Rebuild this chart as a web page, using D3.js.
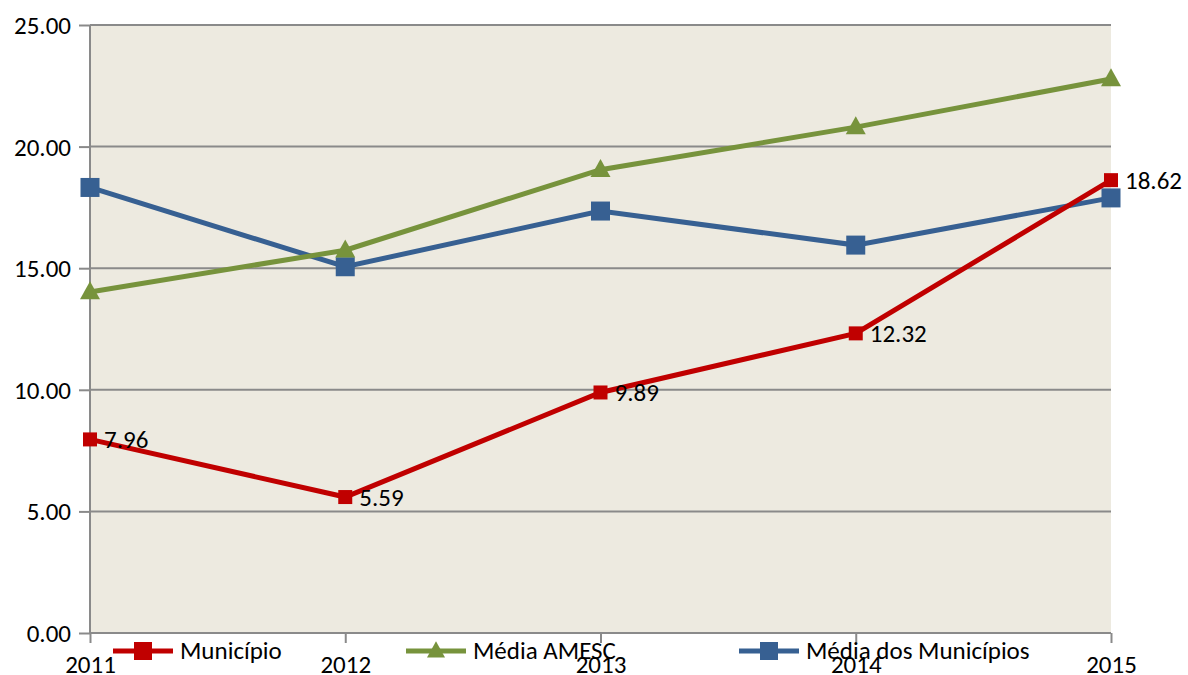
<!DOCTYPE html>
<html>
<head>
<meta charset="utf-8">
<script src="https://cdn.jsdelivr.net/npm/d3@7"></script>
<style>
  body { margin: 0; background: #fff; }
  svg text { font-family: Carlito, "Open Sans", "Liberation Sans", sans-serif; fill: #000; font-size: 25px; }
</style>
</head>
<body>
<script>
// chart data
var years = ["2011", "2012", "2013", "2014", "2015"];
var municipio = [7.96, 5.59, 9.89, 12.32, 18.62];
var mediaAmesc = [14.02, 15.74, 19.05, 20.80, 22.78];
var mediaMunicipios = [18.32, 15.06, 17.35, 15.95, 17.89];
var yTicks = [0, 5, 10, 15, 20, 25];

var width = 1188, height = 675;
var margin = {top: 25, right: 77, bottom: 42, left: 90};

var svg = d3.select("body").append("svg")
    .attr("width", width)
    .attr("height", height);

var x = d3.scalePoint()
    .domain(years)
    .range([margin.left, width - margin.right]);

var y = d3.scaleLinear()
    .domain([0, 25])
    .range([height - margin.bottom, margin.top]);

// plot background
svg.append("rect")
    .attr("x", margin.left)
    .attr("y", margin.top)
    .attr("width", width - margin.right - margin.left)
    .attr("height", y(0) - margin.top)
    .attr("fill", "#EDEAE0");

// gridlines + y axis
var yAxis = svg.append("g")
    .attr("transform", "translate(" + margin.left + ",0)")
    .call(d3.axisLeft(y).tickValues(yTicks).tickSize(11).tickPadding(8)
      .tickFormat(d3.format(".2f")));
yAxis.select(".domain").remove();
yAxis.selectAll(".tick line").attr("stroke", "#8a8a8a").attr("stroke-width", 2);
yAxis.selectAll(".tick text").style("font-size", "25px").attr("dy", "0.34em");

svg.append("g").selectAll("line")
  .data(yTicks)
  .enter().append("line")
    .attr("x1", margin.left)
    .attr("x2", width - margin.right)
    .attr("y1", function(d) { return y(d); })
    .attr("y2", function(d) { return y(d); })
    .attr("stroke", "#8a8a8a")
    .attr("stroke-width", 2);

svg.append("line")
    .attr("x1", margin.left).attr("x2", margin.left)
    .attr("y1", margin.top).attr("y2", y(0))
    .attr("stroke", "#8a8a8a").attr("stroke-width", 2);

// x axis
var xAxis = svg.append("g")
    .attr("transform", "translate(0," + y(0) + ")")
    .call(d3.axisBottom(x).tickSize(10));
xAxis.select(".domain").remove();
xAxis.selectAll(".tick line").attr("stroke", "#8a8a8a").attr("stroke-width", 2);
xAxis.selectAll(".tick text")
    .style("font-size", "25px")
    .attr("y", 40)
    .attr("dy", 0);

var series = [
  {name: "Município", values: municipio, color: "#C00000", marker: "square", size: 14, labels: true},
  {name: "Média AMESC", values: mediaAmesc, color: "#77933C", marker: "triangle", size: 20},
  {name: "Média dos Municípios", values: mediaMunicipios, color: "#376092", marker: "square", size: 19}
];

var line = d3.line()
    .x(function(d, i) { return x(years[i]); })
    .y(function(d) { return y(d); });

function drawMarker(g, s, cx, cy) {
  if (s.marker == "square") {
    g.append("rect")
      .attr("x", cx - s.size / 2).attr("y", cy - s.size / 2)
      .attr("width", s.size).attr("height", s.size)
      .attr("fill", s.color);
  } else {
    var h = s.size * 0.9;
    g.append("path")
      .attr("d", "M" + cx + "," + (cy - h * 0.6) + "L" + (cx + s.size / 2) + "," + (cy + h * 0.4) +
        "L" + (cx - s.size / 2) + "," + (cy + h * 0.4) + "Z")
      .attr("fill", s.color);
  }
}

// draw order: blue, green, red on top
[series[2], series[1], series[0]].forEach(function(s) {
  var g = svg.append("g");
  g.append("path")
    .datum(s.values)
    .attr("d", line)
    .attr("fill", "none")
    .attr("stroke", s.color)
    .attr("stroke-width", 5);
  s.values.forEach(function(v, i) { drawMarker(g, s, x(years[i]), y(v)); });
  if (s.labels) {
    g.selectAll("text")
      .data(s.values)
      .enter().append("text")
        .attr("x", function(d, i) { return x(years[i]) + 14; })
        .attr("y", function(d) { return y(d); })
        .attr("dy", "0.34em")
        .text(function(d) { return d.toFixed(2); });
  }
});

// legend
var legendX = [113, 406, 739];
series.forEach(function(s, i) {
  var g = svg.append("g");
  var lx = legendX[i], ly = 651;
  g.append("line")
    .attr("x1", lx).attr("x2", lx + 60)
    .attr("y1", ly).attr("y2", ly)
    .attr("stroke", s.color).attr("stroke-width", 5);
  drawMarker(g, {marker: s.marker, color: s.color, size: s.marker == "square" ? 18 : 18}, lx + 30, ly);
  g.append("text")
    .attr("x", lx + 67)
    .attr("y", 659)
    .text(s.name);
});
</script>
</body>
</html>
